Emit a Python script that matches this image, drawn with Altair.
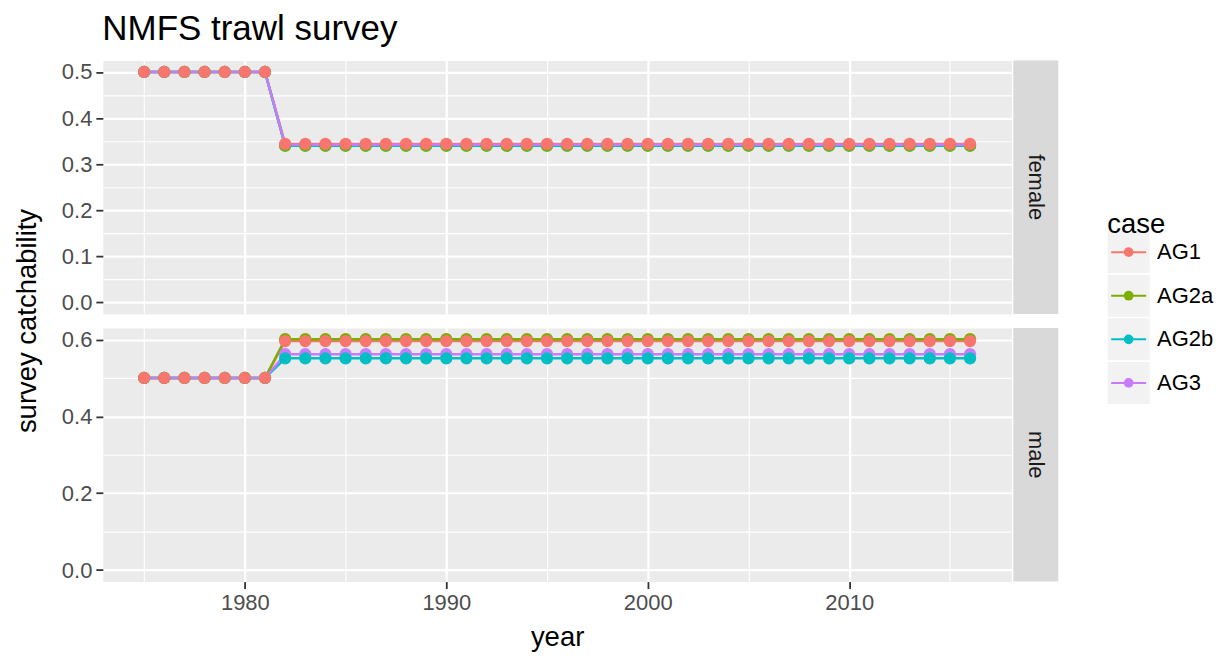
import altair as alt
import pandas as pd

years = list(range(1975, 2017))
cases = ["AG1", "AG2a", "AG2b", "AG3"]
colors = ["#F8766D", "#7CAE00", "#00BFC4", "#C77CFF"]
sexes = ["female", "male"]

# 1975-1981 (7 yrs) then 1982-2016 (35 yrs)
female_AG1 = [0.5] * 7 + [0.344] * 35
female_AG2a = [0.5] * 7 + [0.340] * 35
female_AG2b = [0.5] * 7 + [0.340] * 35
female_AG3 = [0.5] * 7 + [0.342] * 35
male_AG1 = [0.5] * 7 + [0.596] * 35
male_AG2a = [0.5] * 7 + [0.601] * 35
male_AG2b = [0.5] * 7 + [0.551] * 35
male_AG3 = [0.5] * 7 + [0.562] * 35

series = {
    ("female", "AG1"): female_AG1, ("female", "AG2a"): female_AG2a,
    ("female", "AG2b"): female_AG2b, ("female", "AG3"): female_AG3,
    ("male", "AG1"): male_AG1, ("male", "AG2a"): male_AG2a,
    ("male", "AG2b"): male_AG2b, ("male", "AG3"): male_AG3,
}
rows = []
for (sex, case), vals in series.items():
    for yr, v in zip(years, vals):
        rows.append({"sex": sex, "case": case, "k": cases.index(case), "year": yr, "value": v})
df = pd.DataFrame(rows)

x_ticks = [1975, 1980, 1985, 1990, 1995, 2000, 2005, 2010, 2015]
female_ticks = [0.0, 0.05, 0.1, 0.15, 0.2, 0.25, 0.3, 0.35, 0.4, 0.45, 0.5]
male_ticks = [0.0, 0.1, 0.2, 0.3, 0.4, 0.5, 0.6]

W, H, GAP = 910, 254, 14
FONT = "Liberation Sans"
color_scale = alt.Scale(domain=cases, range=colors)


def cond(test, a, b):
    return {"condition": {"test": test, "value": a}, "value": b}


def panel(sex, ydomain, yvals, ytest, show_x):
    d = df[df.sex == sex]
    xtest = "datum.value % 10 === 0"
    if show_x:
        xaxis = alt.Axis(values=x_ticks, format="d",
                         labelExpr="datum.value % 10 === 0 ? datum.label : ''",
                         gridColor="white", gridWidth=cond(xtest, 2.2, 1.1),
                         tickOpacity=cond(xtest, 1, 0), tickColor="#333333",
                         tickSize=7, tickWidth=1.8, domain=False,
                         labelFontSize=22, labelColor="#4D4D4D", labelPadding=4,
                         title="year", titleFontSize=27.5, titleFontWeight="normal",
                         titleColor="black", titlePadding=10)
    else:
        xaxis = alt.Axis(values=x_ticks, labels=False, ticks=False, domain=False,
                         title=None, gridColor="white", gridWidth=cond(xtest, 2.2, 1.1))
    x = alt.X("year:Q", scale=alt.Scale(domain=[1972.95, 2018.05], nice=False, zero=False), axis=xaxis)
    y = alt.Y("value:Q", scale=alt.Scale(domain=ydomain, nice=False, zero=False),
              axis=alt.Axis(values=yvals, format=".1f",
                            labelExpr=f"{ytest} ? datum.label : ''",
                            gridColor="white", gridWidth=cond(ytest, 2.2, 1.1),
                            tickOpacity=cond(ytest, 1, 0), tickColor="#333333",
                            tickSize=7, tickWidth=1.8, domain=False,
                            labelFontSize=22, labelColor="#4D4D4D", labelPadding=4,
                            title=None))
    c = alt.Color("case:N", scale=color_scale, legend=None)
    base = alt.Chart(d)
    lines = base.mark_line(strokeWidth=2.5).encode(x=x, y=y, color=c)
    pts = base.mark_circle(size=150, opacity=1).encode(
        x=x, y=y, color=c, order=alt.Order("k:Q", sort="descending"))
    sdf = pd.DataFrame({"label": [sex]})
    strip = alt.Chart(sdf).mark_rect(color="#D9D9D9").encode(
        x=alt.value(W + 2), x2=alt.value(W + 47), y=alt.value(0), y2=alt.value(H))
    stext = alt.Chart(sdf).mark_text(angle=90, fontSize=22, color="#1A1A1A").encode(
        text="label:N", x=alt.value(W + 24.5), y=alt.value(H / 2))
    layers = [lines, pts, strip, stext]
    if not show_x:
        tdf = pd.DataFrame({"t": ["survey catchability"]})
        layers.append(alt.Chart(tdf).mark_text(angle=270, fontSize=27.5, color="black",
                                               baseline="middle").encode(
            text="t:N", x=alt.value(-75), y=alt.value(H + GAP / 2)))
    return alt.layer(*layers).properties(
        width=W, height=H, view=alt.ViewBackground(fill="#EBEBEB", stroke="transparent"))


female = panel("female", [-0.025, 0.525], female_ticks, "round(datum.value*100) % 10 === 0", False)
male = panel("male", [-0.03, 0.63], male_ticks, "round(datum.value*10) % 2 === 0", True)

leg_df = pd.DataFrame({"case": cases})
ly = alt.Y("case:N", scale=alt.Scale(type="point", domain=cases, range=[192, 323], padding=0), axis=None)
lc = alt.Color("case:N", scale=color_scale, legend=None)
lbase = alt.Chart(leg_df)
keys = lbase.mark_square(size=42 * 42, color="#F2F2F2", opacity=1).encode(x=alt.value(21.5), y=ly)
krule = lbase.mark_rule(strokeWidth=2).encode(x=alt.value(4), x2=alt.value(39), y=ly, color=lc)
kpt = lbase.mark_circle(size=95, opacity=1).encode(x=alt.value(21.5), y=ly, color=lc)
ktxt = lbase.mark_text(align="left", baseline="middle", fontSize=22, color="black").encode(
    x=alt.value(50), y=ly, text="case:N")
ktitle = alt.Chart(pd.DataFrame({"t": ["case"]})).mark_text(
    align="left", baseline="middle", fontSize=27.5, color="black").encode(
    x=alt.value(0), y=alt.value(165), text="t:N")
legend = alt.layer(keys, krule, kpt, ktxt, ktitle).properties(
    width=110, height=2 * H + GAP, view=alt.ViewBackground(fill=None, stroke="transparent"))

chart = alt.hconcat(
    alt.vconcat(female, male, spacing=GAP, bounds="flush"),
    legend, spacing=47,
).properties(
    title=alt.Title("NMFS trawl survey", anchor="start", dx=89, fontSize=35,
                    fontWeight="normal", color="black", offset=13),
    padding={"left": 5, "top": 3, "right": 0, "bottom": 3},
).configure(font=FONT).configure_view(stroke="transparent")

chart.save("out.html", embed_options={"renderer": "svg", "actions": False})
